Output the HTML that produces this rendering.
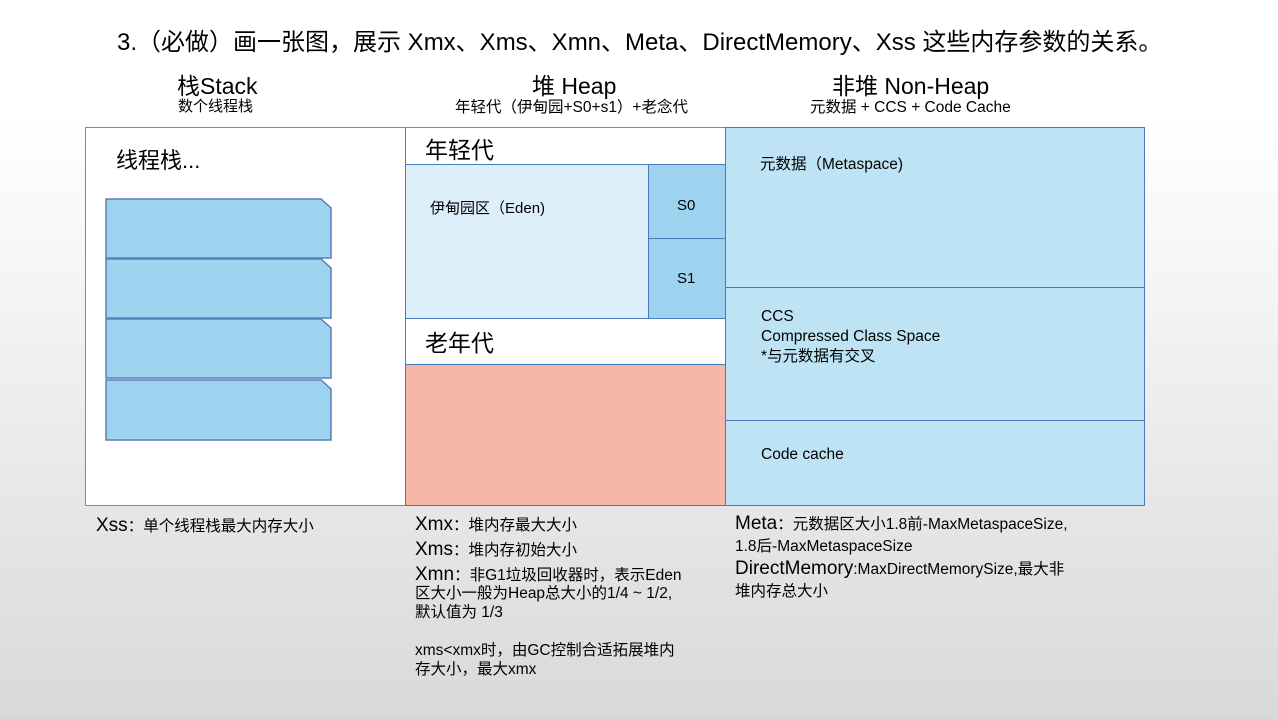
<!DOCTYPE html>
<html><head><meta charset="utf-8"><style>
body{margin:0;width:1278px;height:719px;overflow:hidden;font-family:"Liberation Sans","Noto Sans CJK SC",sans-serif;background:linear-gradient(#fff 0px,#fff 120px,#d9d9d9 719px);position:relative;color:#000}
.a{position:absolute;white-space:nowrap}
.b{position:absolute;box-sizing:border-box}
</style></head><body>
<div class="a" style="left:117px;top:22px;font-size:24px">3.（必做）画一张图，展示 Xmx、Xms、Xmn、Meta、DirectMemory、Xss 这些内存参数的关系。</div>
<div class="a" style="left:177px;top:67px;font-size:23px">栈Stack</div>
<div class="a" style="left:178px;top:95px;font-size:15px">数个线程栈</div>
<div class="a" style="left:532px;top:67px;font-size:23px">堆 Heap</div>
<div class="a" style="left:455px;top:95px;font-size:15.5px">年轻代（伊甸园+S0+s1）+老念代</div>
<div class="a" style="left:832px;top:67px;font-size:23px">非堆 Non-Heap</div>
<div class="a" style="left:810px;top:95px;font-size:15.5px">元数据 + CCS + Code Cache</div>

<div class="b" style="left:85px;top:127px;width:321px;height:379px;background:#fff;border:1px solid #e06070"></div>
<div class="a" style="left:116px;top:143px;font-size:22px">线程栈...</div>
<svg class="b" style="left:100px;top:190px" width="240" height="260">
<g fill="#9dd3ee" stroke="#5a7fb8" stroke-width="1.5">
<path d="M6 9H221L231 18V68H6Z"/><path d="M6 69H221L231 78V128H6Z"/><path d="M6 129H221L231 138V188H6Z"/><path d="M6 190H221L231 199V250H6Z"/>
</g></svg>

<div class="b" style="left:405px;top:127px;width:321px;height:379px;background:#fff;border:1px solid #4a7ab8;border-top-color:#e06070"></div>
<div class="a" style="left:425px;top:131px;font-size:23px">年轻代</div>
<div class="b" style="left:405px;top:164px;width:244px;height:155px;background:#ddf0f9;border:1px solid #4a7ab8"></div>
<div class="a" style="left:430px;top:197px;font-size:15px">伊甸园区（Eden)</div>
<div class="b" style="left:648px;top:164px;width:78px;height:75px;background:#9dd3ee;border:1px solid #4a7ab8"></div>
<div class="b" style="left:648px;top:238px;width:78px;height:81px;background:#9dd3ee;border:1px solid #4a7ab8"></div>
<div class="a" style="left:677px;top:197px;font-size:15px">S0</div>
<div class="a" style="left:677px;top:270px;font-size:15px">S1</div>
<div class="a" style="left:425px;top:324px;font-size:23px">老年代</div>
<div class="b" style="left:405px;top:364px;width:321px;height:142px;background:#f5b8a8;border:1px solid #4a7ab8"></div>

<div class="b" style="left:725px;top:127px;width:420px;height:161px;background:#bde3f5;border:1px solid #4a7ab8"></div>
<div class="b" style="left:725px;top:287px;width:420px;height:134px;background:#bde3f5;border:1px solid #4a7ab8"></div>
<div class="b" style="left:725px;top:420px;width:420px;height:86px;background:#bde3f5;border:1px solid #4a7ab8"></div>
<div class="a" style="left:760px;top:152px;font-size:15.5px">元数据（Metaspace)</div>
<div class="a" style="left:761px;top:307px;font-size:15.5px;line-height:20px">CCS<br>Compressed Class Space<br>*与元数据有交叉</div>
<div class="a" style="left:761px;top:446px;font-size:15.5px">Code cache</div>

<div class="a" style="left:96px;top:514px;font-size:15.5px"><span style="font-size:19px">Xss</span>：单个线程栈最大内存大小</div>
<div class="a" style="left:415px;top:513px;font-size:15.5px;line-height:24px"><span style="font-size:19px">Xmx</span>：堆内存最大大小<br><span style="font-size:19px">Xms</span>：堆内存初始大小<br><span style="font-size:19px">Xmn</span>：非G1垃圾回收器时，表示Eden</div>
<div class="a" style="left:415px;top:584px;font-size:15.5px;line-height:19px">区大小一般为Heap总大小的1/4 ~ 1/2,<br>默认值为 1/3<br><br>xms&lt;xmx时，由GC控制合适拓展堆内<br>存大小，最大xmx</div>
<div class="a" style="left:735px;top:513px;font-size:15.5px;line-height:22px"><span style="font-size:19px">Meta</span>：元数据区大小1.8前-MaxMetaspaceSize,<br>1.8后-MaxMetaspaceSize<br><span style="font-size:19px">DirectMemory</span>:MaxDirectMemorySize,最大非<br>堆内存总大小</div>
</body></html>
